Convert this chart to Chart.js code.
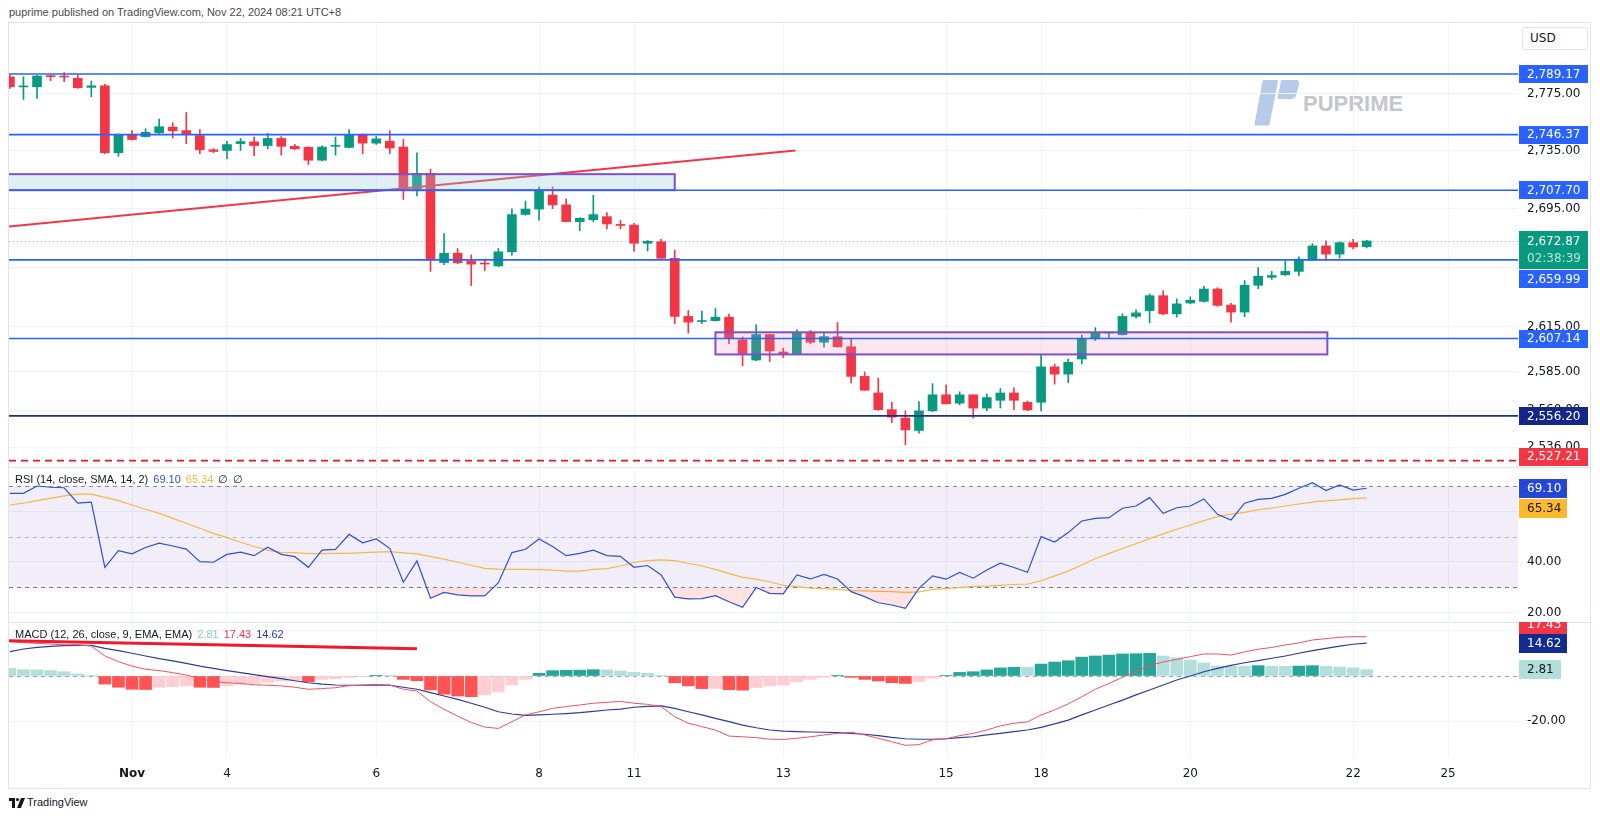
<!DOCTYPE html>
<html>
<head>
<meta charset="utf-8">
<script src="https://cdn.jsdelivr.net/npm/chart.js@4.4.1/dist/chart.umd.min.js"></script>
<style>
  body { margin: 0; background: #fff; width: 1600px; height: 819px; overflow: hidden; position: relative; font-family: "Liberation Sans", Arial, sans-serif; }
  canvas { position: absolute; left: 0; }
  .ln { position: absolute; background: #e0e3eb; }
  #hdr { position: absolute; left: 9px; top: 6px; font-size: 11px; color: #4a4a4a; }
  #usd { position: absolute; left: 1522px; top: 27px; width: 64px; height: 21px; border: 1px solid #e0e3eb; border-radius: 3px; font: 12px "DejaVu Sans"; color: #131722; line-height: 21px; box-sizing: content-box; }
  #usd span { margin-left: 7px; }
  #wm { position: absolute; left: 1252px; top: 78px; width: 160px; height: 50px; }
  #wm svg { position: absolute; left: 0; top: 0; }
  #wm span { position: absolute; left: 51px; top: 15px; font: bold 22px/22px "Liberation Sans"; color: #c4c6cc; }
  #foot { position: absolute; left: 9px; top: 796px; font: 11px "Liberation Sans"; color: #131722; }
  #foot span { position: absolute; left: 18px; top: 0; }
</style>
</head>
<body>
<div id="hdr">puprime published on TradingView.com, Nov 22, 2024 08:21 UTC+8</div>
<div class="ln" style="left:8px;top:22px;width:1582px;height:1px"></div>
<div class="ln" style="left:8px;top:22px;width:1px;height:766px"></div>
<div class="ln" style="left:1590px;top:22px;width:1px;height:766px"></div>
<div class="ln" style="left:8px;top:467px;width:1582px;height:1px"></div>
<div class="ln" style="left:8px;top:622px;width:1582px;height:1px"></div>
<div class="ln" style="left:8px;top:788px;width:1582px;height:1px"></div>
<div id="usd"><span>USD</span></div>
<div id="wm">
  <svg width="50" height="50" viewBox="0 0 50 50">
    <path d="M12 3.5 L24.5 3.5 L16 46 L4 46 Z" fill="#b6cbea" stroke="#b6cbea" stroke-width="3" stroke-linejoin="round"/>
    <path d="M30.5 3.5 L44.5 3.5 Q46 3.5 45.5 6 L43 16 Q42 19.5 38.5 19.5 L27 19.5 Z" fill="#b6cbea" stroke="#b6cbea" stroke-width="3" stroke-linejoin="round"/>
  </svg>
  <span>PUPRIME</span>
</div>
<canvas id="price" width="1600" height="444" style="top:23px"></canvas>
<canvas id="rsi" width="1600" height="155" style="top:467px"></canvas>
<canvas id="macd" width="1600" height="166" style="top:622px"></canvas>
<div id="foot">
  <svg width="16" height="10" viewBox="0 0 16 10" style="position:absolute;left:0;top:2px"><path d="M0 0 H6 V10 H3 V3 H0 Z" fill="#131722"/><circle cx="8.5" cy="1.6" r="1.6" fill="#131722"/><path d="M12 0 H16 L12 10 H8 Z" fill="#131722"/></svg>
  <span>TradingView</span>
</div>
<script>
// 4H candles, Oct 31 - Nov 22
const open = [2787.2, 2780.0, 2780.1, 2787.7, 2787.3, 2786.1, 2779.7, 2780.8, 2733.7, 2746.4,
  2745.0, 2747.6, 2751.6, 2749.2, 2745.7, 2735.8, 2735.3, 2740.1, 2741.3, 2738.7,
  2743.7, 2738.2, 2737.5, 2728.5, 2738.2, 2737.4, 2746.4, 2740.4, 2741.8, 2737.7,
  2708.6, 2719.4, 2658.2, 2664.5, 2659.1, 2657.5, 2655.9, 2665.5, 2691.0, 2694.7,
  2704.3, 2697.6, 2686.1, 2687.4, 2689.5, 2684.2, 2683.7, 2671.3, 2672.4, 2661.1,
  2621.9, 2618.5, 2619.1, 2621.4, 2606.3, 2592.9, 2609.8, 2598.2, 2596.7, 2611.3,
  2604.7, 2608.4, 2601.7, 2582.1, 2571.2, 2560.3, 2554.8, 2546.7, 2559.5, 2570.0,
  2564.5, 2570.0, 2561.3, 2566.4, 2571.2, 2565.1, 2565.1, 2588.4, 2583.6, 2593.6,
  2607.0, 2610.8, 2609.7, 2621.9, 2625.8, 2635.8, 2623.6, 2630.9, 2632.0, 2640.3,
  2629.5, 2624.8, 2642.8, 2648.2, 2650.0, 2652.2, 2659.8, 2669.5, 2663.9, 2671.7,
  2669.0];
const high = [2788.5, 2787.2, 2788.2, 2788.2, 2790.1, 2788.5, 2784.2, 2782.0, 2746.8, 2749.2,
  2750.5, 2757.3, 2754.7, 2761.9, 2749.9, 2736.5, 2741.6, 2743.7, 2744.6, 2747.3,
  2745.0, 2739.5, 2738.0, 2738.6, 2744.6, 2749.9, 2746.8, 2745.0, 2749.1, 2743.0,
  2733.6, 2722.3, 2677.9, 2667.7, 2663.4, 2660.5, 2667.7, 2694.9, 2700.2, 2710.0,
  2710.0, 2701.6, 2688.8, 2704.2, 2692.3, 2687.0, 2685.0, 2673.2, 2674.0, 2666.5,
  2625.9, 2625.5, 2627.2, 2623.5, 2608.2, 2616.3, 2610.0, 2600.8, 2613.0, 2612.5,
  2611.3, 2617.9, 2607.3, 2585.0, 2581.0, 2565.1, 2559.5, 2565.5, 2577.3, 2576.6,
  2572.0, 2570.0, 2570.5, 2574.1, 2574.6, 2566.0, 2596.0, 2590.2, 2593.6, 2609.5,
  2614.4, 2611.6, 2623.7, 2626.3, 2637.0, 2639.1, 2633.6, 2635.1, 2642.1, 2641.2,
  2630.6, 2646.0, 2654.8, 2652.2, 2659.3, 2662.0, 2671.0, 2672.9, 2672.3, 2674.0,
  2673.4];
const low = [2779.0, 2771.1, 2771.8, 2784.4, 2783.7, 2779.0, 2773.0, 2733.0, 2731.2, 2742.5,
  2744.6, 2747.2, 2744.0, 2740.0, 2733.0, 2733.8, 2729.5, 2735.3, 2731.6, 2736.5,
  2732.0, 2736.0, 2725.5, 2728.0, 2732.0, 2737.0, 2733.0, 2739.5, 2733.0, 2701.3,
  2703.8, 2652.2, 2656.8, 2657.5, 2642.6, 2652.8, 2655.5, 2663.2, 2690.5, 2687.0,
  2695.0, 2686.0, 2679.8, 2685.9, 2681.1, 2681.1, 2666.0, 2666.0, 2661.0, 2617.0,
  2610.7, 2617.0, 2618.8, 2603.8, 2589.2, 2592.5, 2592.0, 2594.5, 2596.5, 2603.8,
  2601.5, 2601.5, 2577.8, 2573.0, 2559.8, 2551.8, 2537.4, 2545.0, 2559.0, 2564.1,
  2563.4, 2554.8, 2559.6, 2561.3, 2560.3, 2559.5, 2559.5, 2577.0, 2578.0, 2590.3,
  2605.8, 2607.0, 2609.5, 2620.8, 2617.6, 2623.0, 2621.4, 2630.3, 2631.5, 2628.6,
  2618.0, 2621.7, 2640.6, 2646.8, 2649.3, 2649.3, 2659.5, 2659.8, 2661.2, 2667.4,
  2668.1];
const close = [2780.1, 2780.4, 2787.7, 2787.3, 2787.0, 2779.4, 2780.8, 2733.7, 2746.2, 2742.9,
  2748.0, 2751.9, 2749.0, 2746.9, 2735.8, 2734.6, 2739.4, 2741.5, 2738.7, 2743.7,
  2738.2, 2736.4, 2728.5, 2737.7, 2738.5, 2746.4, 2740.4, 2743.4, 2737.0, 2708.9,
  2719.4, 2660.0, 2664.5, 2658.0, 2657.1, 2657.2, 2665.5, 2690.9, 2694.7, 2707.2,
  2697.6, 2686.1, 2688.4, 2690.9, 2684.5, 2683.5, 2671.3, 2672.6, 2661.1, 2621.9,
  2618.1, 2619.0, 2621.4, 2607.6, 2597.2, 2609.8, 2598.9, 2596.7, 2611.3, 2604.7,
  2608.4, 2601.7, 2582.1, 2573.0, 2560.3, 2555.4, 2547.1, 2559.5, 2570.0, 2564.1,
  2570.0, 2561.3, 2568.2, 2571.2, 2566.4, 2560.1, 2588.4, 2583.6, 2591.4, 2606.9,
  2611.3, 2611.1, 2621.9, 2624.3, 2635.8, 2623.6, 2630.3, 2632.7, 2640.3, 2629.3,
  2624.8, 2642.8, 2648.9, 2649.4, 2652.2, 2660.5, 2669.5, 2663.9, 2671.7, 2668.8,
  2672.87];

const rsi = [67.1, 67.1, 70.0, 69.5, 69.3, 63.2, 63.6, 37.9, 44.5, 43.2,
  45.7, 47.4, 46.3, 45.1, 40.1, 39.9, 43.0, 43.9, 42.5, 45.8,
  43.0, 42.1, 37.9, 44.7, 45.0, 50.9, 47.6, 49.1, 45.4, 32.0,
  40.4, 25.7, 28.0, 27.0, 26.6, 26.6, 31.8, 43.7, 45.0, 49.1,
  46.1, 42.5, 43.4, 44.7, 42.5, 42.2, 37.9, 38.6, 34.9, 26.1,
  25.4, 25.5, 26.7, 24.3, 22.1, 29.9, 27.6, 27.4, 34.9, 33.3,
  35.1, 33.3, 28.3, 26.3, 23.9, 23.0, 21.7, 29.6, 34.5, 33.2,
  35.9, 33.6, 36.8, 39.5, 37.8, 35.9, 50.0, 47.9, 51.6, 56.2,
  57.2, 57.5, 61.2, 62.1, 65.4, 59.2, 61.4, 62.1, 64.9, 58.8,
  56.6, 63.2, 64.7, 65.1, 66.7, 69.1, 71.3, 68.2, 70.4, 68.4,
  69.10];
const rsiMa = [62.5, 63.2, 64.2, 65.1, 66.1, 66.8, 66.8, 65.5, 64.2, 62.5,
  60.8, 59.2, 57.2, 55.3, 53.3, 51.3, 49.6, 47.8, 46.1, 44.7,
  43.8, 43.7, 43.3, 43.3, 43.4, 43.4, 43.7, 43.9, 44.1, 43.6,
  43.2, 42.1, 41.1, 39.9, 38.7, 37.5, 37.2, 37.1, 37.1, 37.0,
  36.8, 36.4, 36.4, 37.1, 37.4, 38.4, 39.9, 40.5, 40.8, 40.5,
  39.5, 38.4, 37.1, 35.5, 33.9, 33.2, 32.1, 30.8, 30.3, 29.7,
  29.5, 29.2, 28.7, 28.6, 28.4, 28.3, 28.0, 28.2, 29.2, 29.5,
  29.9, 30.4, 30.5, 30.8, 31.1, 31.3, 32.6, 34.5, 36.4, 38.8,
  41.4, 43.3, 45.3, 47.2, 49.2, 51.1, 52.9, 54.6, 56.3, 57.9,
  58.9, 59.6, 60.7, 61.3, 62.1, 62.9, 63.6, 64.1, 64.5, 65.0,
  65.34];

const macd = [15.3, 14.8, 14.5, 14.2, 13.9, 13.9, 13.3, 8.9, 6.4, 4.4,
  3.0, 2.4, 1.5, 0.4, -1.0, -2.5, -3.0, -3.3, -3.9, -4.1,
  -4.4, -5.0, -5.9, -5.6, -5.2, -4.3, -4.0, -3.7, -4.0, -5.9,
  -6.7, -11.4, -14.8, -17.8, -20.7, -22.7, -23.3, -20.3, -17.3, -15.9,
  -14.4, -13.6, -12.9, -12.1, -11.7, -11.3, -12.1, -12.6, -13.6, -18.1,
  -21.0, -22.5, -24.0, -26.7, -27.0, -27.4, -28.1, -28.2, -27.7, -27.0,
  -26.2, -25.5, -25.0, -26.2, -27.7, -29.2, -30.8, -30.5, -28.4, -27.9,
  -26.5, -25.5, -24.0, -22.2, -21.0, -20.4, -17.3, -15.1, -12.4, -9.2,
  -5.9, -3.3, -0.6, 1.9, 4.7, 6.2, 7.4, 8.6, 9.8, 9.8,
  9.3, 10.7, 11.9, 12.7, 13.8, 14.7, 16.0, 16.6, 17.2, 17.5,
  17.43];
const signal = [10.8, 12.0, 12.7, 13.2, 13.5, 13.6, 13.6, 12.3, 11.3, 10.1,
  8.9, 7.7, 6.7, 5.6, 4.4, 3.4, 2.4, 1.5, 0.6, -0.3,
  -1.2, -2.1, -3.0, -3.6, -4.0, -4.1, -4.1, -4.0, -4.1, -5.0,
  -5.9, -7.4, -8.9, -10.4, -12.1, -13.9, -15.9, -16.9, -17.5, -17.3,
  -17.0, -16.7, -16.3, -15.7, -15.1, -14.7, -13.9, -13.5, -13.3, -14.4,
  -15.9, -17.3, -18.8, -20.3, -21.8, -23.0, -24.0, -24.5, -24.7, -24.9,
  -25.0, -25.2, -25.5, -25.9, -26.5, -27.3, -27.9, -28.1, -28.1, -27.9,
  -27.4, -27.0, -26.2, -25.5, -24.7, -24.0, -22.8, -21.3, -19.6, -17.3,
  -15.1, -12.9, -10.7, -8.4, -6.2, -4.0, -1.8, 0.0, 1.9, 3.4,
  4.7, 5.9, 6.8, 7.9, 8.9, 10.1, 11.3, 12.3, 13.3, 14.1,
  14.62];
const hist = [3.4, 2.8, 2.7, 2.4, 1.9, 0.9, 0.3, -3.6, -5.0, -5.9,
  -6.0, -5.0, -4.7, -4.4, -5.0, -5.1, -4.4, -3.7, -3.3, -2.8,
  -2.2, -1.8, -2.5, -1.5, -1.2, -0.6, -0.3, 0.3, 0.1, -1.5,
  -2.1, -6.2, -8.1, -8.9, -9.2, -8.4, -7.1, -4.0, -1.5, 1.2,
  2.4, 2.5, 2.6, 2.8, 2.7, 2.2, 1.6, 1.2, 0.1, -3.0,
  -4.4, -5.6, -5.5, -6.1, -6.3, -5.2, -4.4, -4.0, -2.5, -1.5,
  -0.6, 0.3, -0.6, -1.5, -2.2, -3.0, -3.3, -2.5, -1.0, 0.3,
  1.6, 1.9, 2.7, 3.6, 3.9, 3.8, 5.3, 6.2, 6.8, 8.4,
  8.9, 9.3, 9.8, 9.9, 10.1, 8.9, 8.1, 7.1, 5.8, 4.4,
  4.3, 4.3, 4.6, 4.3, 4.3, 4.4, 4.6, 4.3, 4.0, 3.6,
  2.81];

// time axis: bar index of each day label
const dayTicks = [9, 16, 27, 39, 46, 57, 69, 76, 87, 99, 106];
const dayLabels = ['Nov', '4', '6', '8', '11', '13', '15', '18', '20', '22', '25'];
const priceTicks = [2775, 2735, 2695, 2655, 2615, 2585, 2560, 2536];
const rsiTicks = [20, 40, 60];
const macdTicks = [-20, 0, 20];

// drawings
const levels = [2789.17, 2746.37, 2707.70, 2659.99, 2607.14];
const support = 2556.20;
const stopLevel = 2527.21;
const lastPrice = 2672.87;
const countdown = '02:38:39';
const upperZone = { x0: -2, x1: 49.0, lo: 2707.70, hi: 2718.8 };
const lowerZone = { x0: 52.0, x1: 97.1, lo: 2596.6, hi: 2611.3 };
const trendX = [-0.07, 57.9];
const trendY = [2682.8, 2735.2];
const macdTrendX = [-0.07, 30.0];
const macdTrendY = [15.7, 12.1];

const UP = '#089981', DOWN = '#f23645';
const GRID = '#f0f3fa';
const X_MIN = -0.066, X_MAX = 111.15;

Chart.defaults.font.family = 'DejaVu Sans';
Chart.defaults.font.size = 12;
Chart.defaults.color = '#131722';

const fmt = v => v.toLocaleString('en-US', { minimumFractionDigits: 2, maximumFractionDigits: 2 });
const pts = arr => arr.map((v, i) => ({ x: i, y: v }));

function xScale(showLabels) {
  return {
    type: 'linear', min: X_MIN, max: X_MAX, offset: false, bounds: 'data',
    afterBuildTicks: s => { s.ticks = dayTicks.map(v => ({ value: v })); },
    grid: { color: GRID, drawTicks: false, tickLength: 0, offset: false },
    border: { display: false },
    ticks: {
      display: showLabels, padding: 10, maxRotation: 0, autoSkip: false,
      callback: (v, i) => dayLabels[i],
      font: c => ({ family: 'DejaVu Sans', size: 12, weight: c.index === 0 ? 'bold' : 'normal' })
    },
    afterFit: s => { s.height = showLabels ? 31 : 0; s.paddingLeft = 0; s.paddingRight = 0; }
  };
}

function yScale(extra, tickList, fmtTick) {
  return Object.assign({
    position: 'right', bounds: 'data',
    afterBuildTicks: s => { s.ticks = tickList.map(v => ({ value: v })); },
    grid: { color: GRID, drawTicks: false, tickLength: 0 },
    border: { display: false },
    ticks: { padding: 9, autoSkip: false, callback: fmtTick },
    afterFit: s => { s.width = 82; s.paddingTop = 0; s.paddingBottom = 0; }
  }, extra);
}

function baseOptions(y, showX) {
  return {
    responsive: false, animation: false, events: [],
    layout: { autoPadding: false, padding: { left: 9, right: 0, top: 0, bottom: 0 } },
    plugins: { legend: { display: false }, tooltip: { enabled: false } },
    scales: { x: xScale(showX), y: y }
  };
}

function badge(ctx, yc, text, bg, fg, w, h) {
  h = h || 19;
  ctx.fillStyle = bg;
  ctx.fillRect(1519, Math.round(yc - h / 2), w, h);
  ctx.fillStyle = fg;
  ctx.font = '12px "DejaVu Sans"';
  ctx.textBaseline = 'middle';
  ctx.textAlign = 'left';
  ctx.fillText(text, 1527, yc + 0.5);
}

function hline(ctx, a, p, color, width, dash) {
  ctx.strokeStyle = color;
  ctx.lineWidth = width;
  ctx.setLineDash(dash || []);
  ctx.beginPath();
  ctx.moveTo(a.left, p);
  ctx.lineTo(a.right, p);
  ctx.stroke();
}

function legend(ctx, parts) {
  ctx.font = '11px "Liberation Sans"';
  ctx.textBaseline = 'middle';
  ctx.textAlign = 'left';
  let x = 15;
  parts.forEach(([t, c]) => {
    ctx.fillStyle = c;
    ctx.fillText(t, x, 13);
    x += ctx.measureText(t).width + 5;
  });
}

// ---------- price pane ----------
const pricePlugin = {
  id: 'pricePane',
  beforeDatasetsDraw(chart) {
    const { ctx, chartArea: a, scales: { y } } = chart;
    ctx.save();
    hline(ctx, a, Math.round(y.getPixelForValue(lastPrice)) + 0.5, 'rgba(8,153,129,0.55)', 1, [1, 3]);
    ctx.restore();
  },
  afterDatasetsDraw(chart) {
    const { ctx, chartArea: a, scales: { x, y } } = chart;
    ctx.save();
    ctx.beginPath();
    ctx.rect(a.left, a.top, a.right - a.left, a.bottom - a.top);
    ctx.clip();
    const zone = (z, fill) => {
      const x0 = x.getPixelForValue(z.x0), x1 = x.getPixelForValue(z.x1);
      const y0 = y.getPixelForValue(z.hi), y1 = y.getPixelForValue(z.lo);
      ctx.fillStyle = fill;
      ctx.fillRect(x0, y0, x1 - x0, y1 - y0);
      ctx.strokeStyle = '#7e4fd0';
      ctx.lineWidth = 2;
      ctx.setLineDash([]);
      ctx.strokeRect(x0, y0, x1 - x0, y1 - y0);
    };
    zone(upperZone, 'rgba(150,205,222,0.3)');
    zone(lowerZone, 'rgba(228,135,178,0.2)');
    levels.forEach(v => hline(ctx, a, y.getPixelForValue(v), '#2962ff', 1.6));
    hline(ctx, a, y.getPixelForValue(support), '#1c2f8e', 1.8);
    hline(ctx, a, y.getPixelForValue(stopLevel), '#e3141f', 1.6, [7, 5]);
    ctx.restore();
  },
  afterDraw(chart) {
    const { ctx, scales: { y } } = chart;
    ctx.save();
    [levels[0], levels[1], levels[2]].forEach(v => badge(ctx, y.getPixelForValue(v), fmt(v), '#2962ff', '#fff', 69, 18));
    const pl = y.getPixelForValue(lastPrice);
    ctx.fillStyle = '#fff';
    ctx.fillRect(1519, Math.round(pl - 9.5), 69, 58);
    ctx.fillStyle = UP;
    ctx.fillRect(1519, Math.round(pl - 9.5), 69, 38);
    badge(ctx, pl, fmt(lastPrice), 'rgba(0,0,0,0)', '#fff', 69, 18);
    badge(ctx, pl + 17, countdown, 'rgba(0,0,0,0)', 'rgba(255,255,255,0.72)', 69, 18);
    badge(ctx, pl + 38, fmt(levels[3]), '#2962ff', '#fff', 69, 18);
    badge(ctx, y.getPixelForValue(levels[4]), fmt(levels[4]), '#2962ff', '#fff', 69, 18);
    badge(ctx, y.getPixelForValue(support), fmt(support), '#13278a', '#fff', 69, 18);
    badge(ctx, y.getPixelForValue(stopLevel) - 4, fmt(stopLevel), '#f23645', '#fff', 69, 18);
    ctx.restore();
  }
};

new Chart(document.getElementById('price'), {
  type: 'bar',
  data: {
    datasets: [
      {
        type: 'line', order: 0, data: trendX.map((v, i) => ({ x: v, y: trendY[i] })),
        borderColor: '#f23645', borderWidth: 2, pointRadius: 0
      },
      {
        order: 1, grouped: false, barThickness: 9, minBarLength: 1,
        data: close.map((c, i) => ({ x: i, y: [open[i], c] })),
        backgroundColor: c => close[c.dataIndex] >= open[c.dataIndex] ? UP : DOWN
      },
      {
        order: 2, grouped: false, barThickness: 1, minBarLength: 1,
        data: close.map((c, i) => ({ x: i, y: [low[i], high[i]] })),
        backgroundColor: c => close[c.dataIndex] >= open[c.dataIndex] ? UP : DOWN
      }
    ]
  },
  options: baseOptions(yScale({ type: 'logarithmic', min: 2523.1, max: 2825.7 }, priceTicks, v => fmt(v)), false),
  plugins: [pricePlugin]
});

// ---------- RSI pane ----------
const rsiPlugin = {
  id: 'rsiPane',
  beforeDatasetsDraw(chart) {
    const { ctx, chartArea: a, scales: { y } } = chart;
    const t = y.getPixelForValue(70), b = y.getPixelForValue(30);
    ctx.save();
    ctx.fillStyle = 'rgba(126,87,194,0.1)';
    ctx.fillRect(a.left, t, a.right - a.left, b - t);
    hline(ctx, a, Math.round(t) + 0.5, '#888b95', 1, [4, 4]);
    hline(ctx, a, Math.round(y.getPixelForValue(50)) + 0.5, '#b8bac2', 1, [4, 4]);
    hline(ctx, a, Math.round(b) + 0.5, '#787b86', 1, [4, 4]);
    ctx.restore();
  },
  afterDraw(chart) {
    const { ctx, scales: { y } } = chart;
    ctx.save();
    legend(ctx, [['RSI (14, close, SMA, 14, 2)', '#131722'], [fmt(rsi[100]), '#2e50d6'], [fmt(rsiMa[100]), '#f5b53f'], ['\u2205', '#131722'], ['\u2205', '#131722']]);
    const p = y.getPixelForValue(rsi[100]);
    badge(ctx, p, fmt(rsi[100]), '#2447d8', '#fff', 48);
    badge(ctx, p + 20, fmt(rsiMa[100]), '#fdb92c', '#131722', 48);
    ctx.restore();
  }
};

new Chart(document.getElementById('rsi'), {
  type: 'line',
  data: {
    datasets: [
      {
        data: pts(rsi), borderColor: '#2e50d6', borderWidth: 1.2, pointRadius: 0,
        fill: { target: { value: 30 }, above: 'rgba(0,0,0,0)', below: 'rgba(255,82,82,0.16)' }
      },
      { data: pts(rsiMa), borderColor: '#f7b844', borderWidth: 1.2, pointRadius: 0 },
      {
        data: pts(rsi), borderWidth: 0, pointRadius: 0,
        fill: { target: { value: 70 }, above: 'rgba(8,153,129,0.15)', below: 'rgba(0,0,0,0)' }
      }
    ]
  },
  options: baseOptions(yScale({ type: 'linear', min: 16.3, max: 77.5 }, rsiTicks, v => fmt(v)), false),
  plugins: [rsiPlugin]
});

// ---------- MACD pane ----------
const macdPlugin = {
  id: 'macdPane',
  beforeDatasetsDraw(chart) {
    const { ctx, chartArea: a, scales: { y } } = chart;
    ctx.save();
    hline(ctx, a, Math.round(y.getPixelForValue(0)) + 0.5, '#a3a6af', 1, [4, 4]);
    ctx.restore();
  },
  afterDraw(chart) {
    const { ctx, scales: { y } } = chart;
    ctx.save();
    legend(ctx, [['MACD (12, 26, close, 9, EMA, EMA)', '#131722'], [fmt(hist[100]), '#84cdc6'], [fmt(macd[100]), '#f23645'], [fmt(signal[100]), '#2a3d9c']]);
    const ps = y.getPixelForValue(signal[100]);
    badge(ctx, ps - 19, fmt(macd[100]), '#f23645', '#fff', 48);
    badge(ctx, ps, fmt(signal[100]), '#0f2c8e', '#fff', 48);
    badge(ctx, y.getPixelForValue(hist[100]), fmt(hist[100]), '#b2dfdb', '#131722', 42);
    ctx.restore();
  }
};

const histColor = c => {
  const i = c.dataIndex, v = hist[i], prev = i > 0 ? hist[i - 1] : Infinity;
  if (v >= 0) return v > prev ? '#26a69a' : '#b2dfdb';
  return v < prev ? '#ff5252' : '#ffcdd2';
};

new Chart(document.getElementById('macd'), {
  type: 'bar',
  data: {
    datasets: [
      {
        type: 'line', order: 0, data: macdTrendX.map((v, i) => ({ x: v, y: macdTrendY[i] })),
        borderColor: '#f0182a', borderWidth: 3, pointRadius: 0
      },
      { type: 'line', order: 1, data: pts(macd), borderColor: '#f4505e', borderWidth: 1, pointRadius: 0 },
      { type: 'line', order: 2, data: pts(signal), borderColor: '#2a3d9c', borderWidth: 1.2, pointRadius: 0 },
      { order: 3, grouped: false, barThickness: 12, data: pts(hist), backgroundColor: histColor }
    ]
  },
  options: baseOptions(yScale({ type: 'linear', min: -36, max: 24 }, macdTicks, v => fmt(v)), true),
  plugins: [macdPlugin]
});
</script>
</body>
</html>
